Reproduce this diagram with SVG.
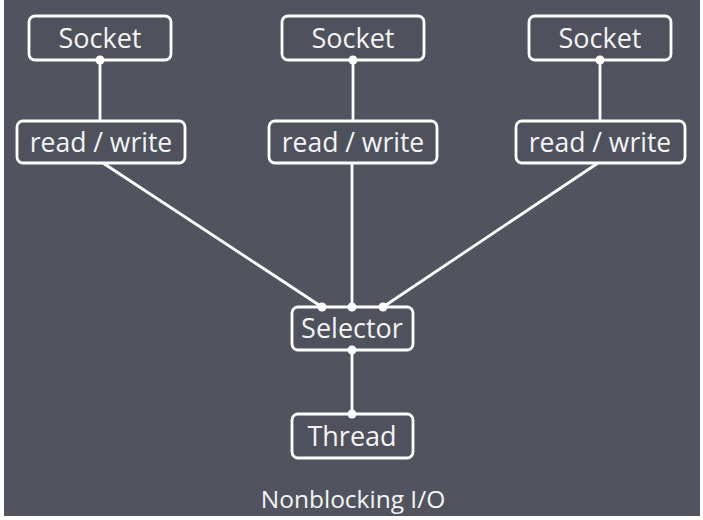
<svg xmlns="http://www.w3.org/2000/svg" width="703" height="520" viewBox="0 0 703 520">
<style>
.bg{fill:#51545f}
.box{fill:#4f525d;stroke:#ffffff;stroke-width:2.8}
.t{font-family:"Open Sans","Noto Sans","DejaVu Sans",sans-serif;fill:#f4f4f4;text-anchor:middle}
.big{font-size:27px}
.mid{font-size:26.5px}
.cap{font-size:24.5px}
.ln{stroke:#ffffff;stroke-width:2.8;fill:none}
.dot{fill:#ffffff}
</style>
<rect x="0" y="0" width="703" height="520" fill="#ffffff"/>
<rect class="bg" x="4" y="0" width="696" height="516"/>
<g id="socket1"><rect class="box" x="29" y="16" width="142" height="44" rx="6"/><text class="t big" x="100" y="48">Socket</text></g>
<g id="socket2"><rect class="box" x="282" y="16" width="142" height="44" rx="6"/><text class="t big" x="353" y="48">Socket</text></g>
<g id="socket3"><rect class="box" x="529" y="16" width="142" height="44" rx="6"/><text class="t big" x="600" y="48">Socket</text></g>
<g id="rw1"><rect class="box" x="17" y="121" width="168" height="42" rx="6"/><text class="t mid" x="101" y="152">read / write</text></g>
<g id="rw2"><rect class="box" x="269" y="121" width="168" height="42" rx="6"/><text class="t mid" x="353" y="152">read / write</text></g>
<g id="rw3"><rect class="box" x="516" y="121" width="169" height="42" rx="6"/><text class="t mid" x="600" y="152">read / write</text></g>
<g id="selector"><rect class="box" x="292" y="307" width="121" height="43" rx="6"/><text class="t big" x="352" y="338">Selector</text></g>
<g id="thread"><rect class="box" x="292" y="414" width="121" height="44" rx="6"/><text class="t big" x="352" y="446">Thread</text></g>
<g id="connectors">
<line class="ln" x1="100" y1="60" x2="100" y2="121"/>
<line class="ln" x1="353" y1="60" x2="353" y2="121"/>
<line class="ln" x1="600" y1="60" x2="600" y2="121"/>
<line class="ln" x1="103" y1="163" x2="322" y2="307"/>
<line class="ln" x1="352" y1="163" x2="352" y2="307"/>
<line class="ln" x1="598" y1="163" x2="383" y2="307"/>
<line class="ln" x1="352" y1="350" x2="352" y2="414"/>
<circle class="dot" cx="100" cy="60" r="4.5"/>
<circle class="dot" cx="353" cy="60" r="4.5"/>
<circle class="dot" cx="600" cy="60" r="4.5"/>
<circle class="dot" cx="322" cy="307" r="4.5"/>
<circle class="dot" cx="352" cy="307" r="4.5"/>
<circle class="dot" cx="383" cy="307" r="4.5"/>
<circle class="dot" cx="352" cy="350" r="4.5"/>
<circle class="dot" cx="352" cy="414" r="4.5"/>
</g>
<text class="t cap" x="353" y="508">Nonblocking I/O</text>
</svg>
